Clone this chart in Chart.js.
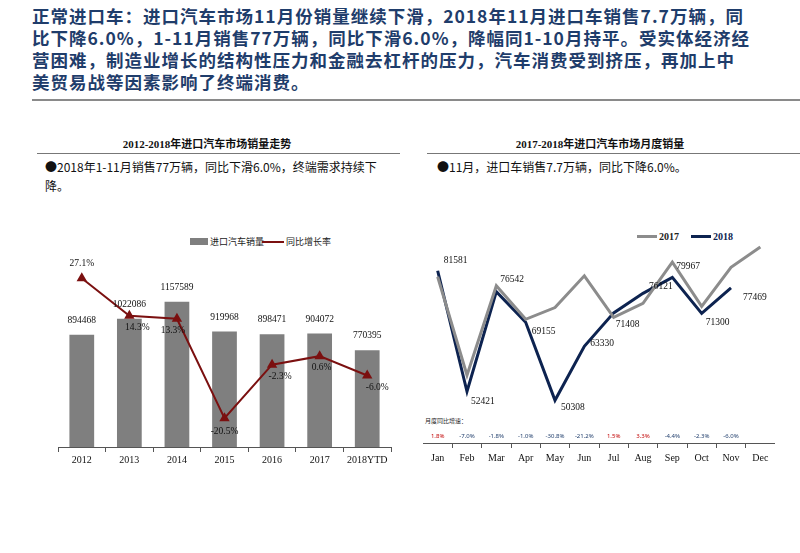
<!DOCTYPE html>
<html><head><meta charset="utf-8">
<script src="https://cdn.jsdelivr.net/npm/chart.js@4"></script>
<style>
body{margin:0;width:800px;height:553px;background:#fff;position:relative;overflow:hidden;font-family:"Noto Sans CJK SC","Noto Sans",sans-serif}
#title{position:absolute;left:32px;top:5px;width:780px;font-size:17.5px;font-weight:bold;color:#1f3d6b;line-height:22px;letter-spacing:1px;white-space:nowrap}
#rule{position:absolute;left:32px;top:99px;width:768px;height:2px;background:#8a8a8a}
.sub{position:absolute;top:135px;font-size:11px;font-weight:bold;font-family:"Liberation Serif","Noto Sans CJK SC",serif;text-align:center;color:#111}
.subline{position:absolute;top:153px;height:1px;background:#777}
.note{position:absolute;top:157px;font-size:12px;line-height:19px;color:#111}
.leg{position:absolute;font-size:9px;color:#222;display:flex;align-items:center}
.box{position:absolute}
</style></head><body>
<div id="title">正常进口车：进口汽车市场11月份销量继续下滑，2018年11月进口车销售7.7万辆，同<br>比下降6.0%，1-11月销售77万辆，同比下滑6.0%，降幅同1-10月持平。受实体经济经<br>营困难，制造业增长的结构性压力和金融去杠杆的压力，汽车消费受到挤压，再加上中<br>美贸易战等因素影响了终端消费。</div>
<div id="rule"></div>
<div class="sub" style="left:37px;width:340px">2012-2018年进口汽车市场销量走势</div>
<div class="subline" style="left:37px;width:363px"></div>
<div class="note" style="left:45px;width:350px">●2018年1-11月销售77万辆，同比下滑6.0%，终端需求持续下降。</div>
<div class="sub" style="left:430px;width:340px">2017-2018年进口汽车市场月度销量</div>
<div class="subline" style="left:427px;width:373px"></div>
<div class="note" style="left:437px;width:350px">●11月，进口车销售7.7万辆，同比下降6.0%。</div>
<div class="leg" style="left:190px;top:235px"><span style="display:inline-block;width:18px;height:7px;background:#7f7f7f;margin-right:2px"></span>进口汽车销量</div>
<div class="leg" style="left:262px;top:235px"><span style="display:inline-block;width:22px;height:2px;background:#7b1010;margin-right:2px"></span>同比增长率</div>
<div class="leg" style="left:637px;top:231px;font-family:'Liberation Serif',serif;font-weight:bold;font-size:10px"><span style="display:inline-block;width:20px;height:3px;background:#8c8c8c;margin-right:2px"></span>2017</div>
<div class="leg" style="left:691px;top:231px;font-family:'Liberation Serif',serif;font-weight:bold;font-size:10px;color:#0d2350"><span style="display:inline-block;width:20px;height:3px;background:#0d2350;margin-right:2px"></span>2018</div>
<div class="leg" style="left:425px;top:416px;font-size:6px">月度同比增速：</div>
<div class="box" style="left:52px;top:240px;width:345px;height:230px"><canvas id="c1"></canvas></div>
<div class="box" style="left:423px;top:240px;width:352px;height:230px"><canvas id="c2"></canvas></div>
<script>
const years=['2012','2013','2014','2015','2016','2017','2018YTD'];
const sales=[894468,1022086,1157589,919968,898471,904072,770395];
const growth=[27.1,14.3,13.3,-20.5,-2.3,0.6,-6.0];
const months=['Jan','Feb','Mar','Apr','May','Jun','Jul','Aug','Sep','Oct','Nov','Dec'];
const s2018=[81581,52421,76542,69155,50308,63330,71408,76121,79967,71300,77469,null];
const s2017=[80139,56367,77945,69853,72699,80368,70353,73689,83647,72979,82414,87300];
const monthGrowth=['1.8%','-7.0%','-1.8%','-1.0%','-30.8%','-21.2%','1.5%','3.3%','-4.4%','-2.3%','-6.0%'];

const serif='"Liberation Serif",serif';
const fixX=h=>({afterFit(s){s.height=h;}});

const lbl1={id:'lbl1',afterDatasetsDraw(ch){
 const c=ch.ctx;c.save();c.font='9.5px '+serif;c.textAlign='center';c.fillStyle='#111';
 ch.getDatasetMeta(0).data.forEach((b,i)=>{c.fillText(sales[i],b.x,b.y-12);});
 const off=[[0,-12],[8,14],[-4,14],[0,16],[8,14],[2,14],[10,14]];
 ch.getDatasetMeta(1).data.forEach((p,i)=>{c.fillText(growth[i].toFixed(1)+'%',p.x+off[i][0],p.y+off[i][1]);});
 c.restore();}};
new Chart(document.getElementById('c1'),{
 data:{labels:years,datasets:[
  {type:'bar',data:sales,backgroundColor:'#7f7f7f',yAxisID:'y',barPercentage:0.52,categoryPercentage:1,order:2},
  {type:'line',data:growth,borderColor:'#7b1010',backgroundColor:'#7b1010',borderWidth:2,pointStyle:'triangle',pointRadius:4,yAxisID:'y1',order:1}]},
 options:{responsive:true,maintainAspectRatio:false,animation:false,layout:{padding:{top:10,left:0,right:0}},
  plugins:{legend:{display:false},tooltip:{enabled:false}},
  scales:{x:{offset:true,...fixX(23),grid:{display:true,drawOnChartArea:false,offset:true,tickLength:5,color:'#555'},border:{color:'#555'},ticks:{color:'#111',font:{family:serif,size:10},padding:2}},
   y:{display:false,min:0,max:1570000},y1:{display:false,min:-30.3,max:36.7}}},
 plugins:[lbl1]});

const lbl2={id:'lbl2',afterDatasetsDraw(ch){
 const c=ch.ctx;c.save();c.font='9.5px '+serif;c.fillStyle='#111';c.textAlign='left';
 const off=[[6,-8],[4,12],[4,-10],[6,12],[6,10],[6,0],[2,14],[6,-4],[4,-8],[4,12],[12,12]];
 ch.getDatasetMeta(1).data.forEach((p,i)=>{if(s2018[i]!=null)c.fillText(s2018[i],p.x+off[i][0],p.y+off[i][1]);});
 const xs=ch.scales.x;c.font='6px "Noto Sans",sans-serif';c.textAlign='center';
 monthGrowth.forEach((g,i)=>{c.fillStyle=g[0]==='-'?'#1f3d6b':'#c00000';c.fillText(g,xs.getPixelForValue(i),ch.chartArea.bottom-5);});
 c.restore();}};
new Chart(document.getElementById('c2'),{
 type:'line',
 data:{labels:months,datasets:[
  {data:s2017,borderColor:'#8c8c8c',borderWidth:3,pointRadius:0,tension:0},
  {data:s2018,borderColor:'#0d2350',borderWidth:3,pointRadius:0,tension:0}]},
 options:{responsive:true,maintainAspectRatio:false,animation:false,layout:{padding:0},
  plugins:{legend:{display:false},tooltip:{enabled:false}},
  scales:{x:{offset:true,...fixX(27),grid:{display:true,drawOnChartArea:false,offset:true,tickLength:5,color:'#555'},border:{color:'#555'},ticks:{color:'#111',font:{family:serif,size:10},padding:4}},
   y:{display:false,min:40000,max:89000}}},
 plugins:[lbl2]});
</script></body></html>
